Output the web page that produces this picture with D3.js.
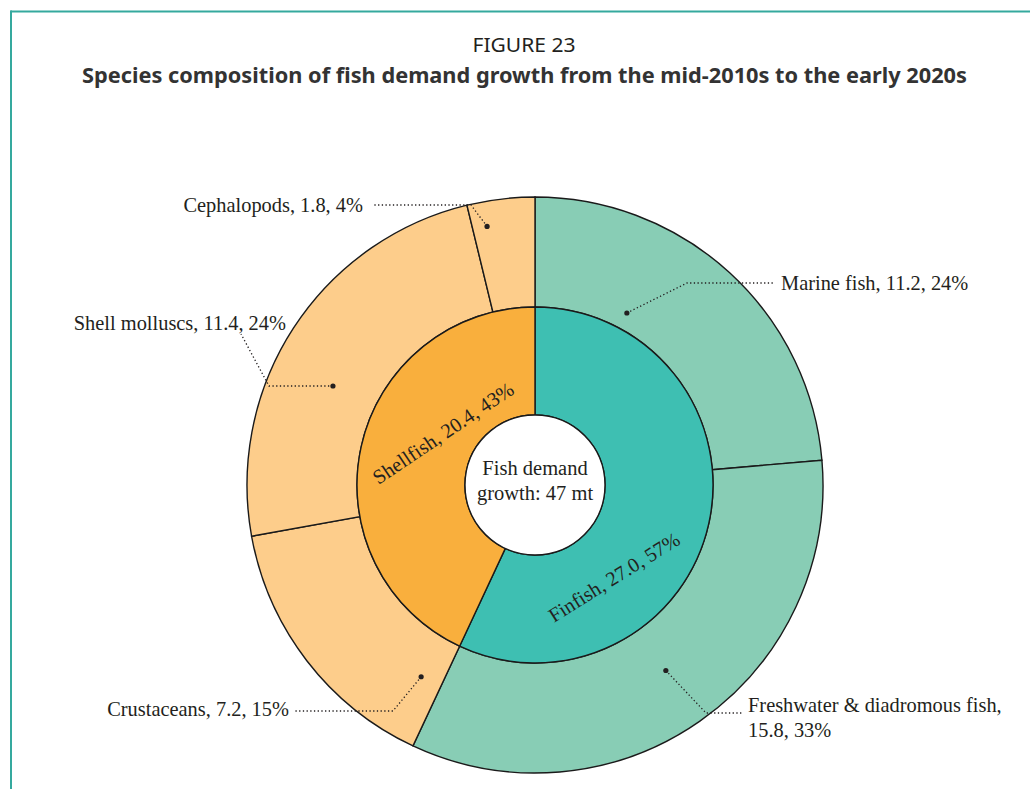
<!DOCTYPE html>
<html>
<head>
<meta charset="utf-8">
<script src="https://cdn.jsdelivr.net/npm/d3@7/dist/d3.min.js"></script>
<style>
  html, body { margin: 0; padding: 0; background: #fff; }
  svg { display: block; }
</style>
</head>
<body>
<svg id="chart" width="1030" height="789"></svg>
<script>
// ---- data ----
const groupNames = ["Finfish", "Shellfish"];
const groupValues = [27.0, 20.4];
const groupPct = ["57%", "43%"];
const speciesNames = ["Marine fish", "Freshwater & diadromous fish", "Crustaceans", "Shell molluscs", "Cephalopods"];
const speciesValues = [11.2, 15.8, 7.2, 11.4, 1.8];
const speciesPct = ["24%", "33%", "15%", "24%", "4%"];
const speciesGroup = [0, 0, 1, 1, 1];
const centerLabel = ["Fish demand", "growth: 47 mt"];
const figureLabel = "FIGURE 23";
const titleText = "Species composition of fish demand growth from the mid-2010s to the early 2020s";

// ---- layout / style ----
const W = 1030, H = 789;
const cx = 535, cy = 485;
const rHole = 70, rInner = 178, rOuter = 288;
const innerColors = ["#3EBFB2", "#F9AF3D"];
const outerColors = ["#88CDB5", "#88CDB5", "#FDCD8B", "#FDCD8B", "#FDCD8B"];
const textColor = "#231f20";
const serif = "'Liberation Serif', 'Times New Roman', serif";

// annotation layout: dot polar (deg clockwise from top, radius), elbow and end relative to center
const annot = [
  { a: 28.1, r: 195, elbow: [152, -202], end: [239, -202], tx: [246, -195], anchor: "start", lines: ["Marine fish, 11.2, 24%"] },
  { a: 144.8, r: 227, elbow: [171, 228], end: [208, 228], tx: [213, 227], anchor: "start", lines: ["Freshwater & diadromous fish,", "15.8, 33%"] },
  { a: 210.7, r: 223, elbow: [-142, 226], end: [-242, 226], tx: [-246, 231], anchor: "end", lines: ["Crustaceans, 7.2, 15%"] },
  { a: 296.1, r: 225, elbow: [-266, -99], end: [-294, -151], tx: [-249, -155], anchor: "end", lines: ["Shell molluscs, 11.4, 24%"] },
  { a: 349.5, r: 263, elbow: [-64, -280], end: [-163, -280], tx: [-172, -273], anchor: "end", lines: ["Cephalopods, 1.8, 4%"] }
];
const innerLabelPos = [
  { dx: 79, dy: 92, rot: -32 },
  { dx: -92, dy: -52, rot: -34 }
];

const svg = d3.select("#chart");

// frame
svg.append("line").attr("x1", 10.5).attr("x2", W).attr("y1", 11.5).attr("y2", 11.5)
  .attr("stroke", "#35A99E").attr("stroke-width", 2);
svg.append("line").attr("x1", 11).attr("x2", 11).attr("y1", 10.5).attr("y2", H)
  .attr("stroke", "#35A99E").attr("stroke-width", 2);

// titles
svg.append("text").attr("x", 524).attr("y", 52).attr("text-anchor", "middle")
  .attr("font-family", "'Noto Sans', 'Open Sans', sans-serif").attr("font-size", 19.5)
  .attr("fill", textColor).attr("textLength", 103).attr("lengthAdjust", "spacingAndGlyphs")
  .text(figureLabel);
svg.append("text").attr("x", 524.5).attr("y", 83).attr("text-anchor", "middle")
  .attr("font-family", "'Noto Sans', 'Open Sans', sans-serif").attr("font-size", 21).attr("font-weight", "bold")
  .attr("fill", "#333").attr("textLength", 885).attr("lengthAdjust", "spacingAndGlyphs")
  .text(titleText);

const g = svg.append("g").attr("transform", `translate(${cx},${cy})`);

const pie = d3.pie().sort(null).value(d => d);
const innerArcs = pie(groupValues);
const outerArcs = pie(speciesValues);

const arcInner = d3.arc().innerRadius(rHole).outerRadius(rInner);
const arcOuter = d3.arc().innerRadius(rInner).outerRadius(rOuter);

g.selectAll("path.outer").data(outerArcs).join("path")
  .attr("class", "outer")
  .attr("d", arcOuter)
  .attr("fill", (d, i) => outerColors[i])
  .attr("stroke", "#1a1a1a").attr("stroke-width", 1.4);

g.selectAll("path.inner").data(innerArcs).join("path")
  .attr("class", "inner")
  .attr("d", arcInner)
  .attr("fill", (d, i) => innerColors[i])
  .attr("stroke", "#1a1a1a").attr("stroke-width", 1.4);

g.append("circle").attr("r", rHole).attr("fill", "#fff")
  .attr("stroke", "#1a1a1a").attr("stroke-width", 1.4);

// center label
g.selectAll("text.center").data(centerLabel).join("text")
  .attr("class", "center")
  .attr("x", 0).attr("y", (d, i) => -10 + i * 25)
  .attr("text-anchor", "middle")
  .attr("font-family", serif).attr("font-size", 20.5).attr("fill", textColor)
  .text(d => d);

// inner labels
g.selectAll("text.inlab").data(innerArcs).join("text")
  .attr("class", "inlab")
  .attr("transform", (d, i) => `translate(${innerLabelPos[i].dx},${innerLabelPos[i].dy}) rotate(${innerLabelPos[i].rot})`)
  .attr("text-anchor", "middle").attr("dy", "0.35em")
  .attr("font-family", serif).attr("font-size", 20.3).attr("fill", textColor)
  .text((d, i) => `${groupNames[i]}, ${groupValues[i].toFixed(1)}, ${groupPct[i]}`);

// outer annotations
outerArcs.forEach((d, i) => {
  const an = annot[i];
  const rad = an.a * Math.PI / 180;
  const px = an.r * Math.sin(rad), py = -an.r * Math.cos(rad);
  g.append("path")
    .attr("d", d3.line()([[px, py], an.elbow, an.end]))
    .attr("fill", "none").attr("stroke", textColor).attr("stroke-width", 1.3)
    .attr("stroke-dasharray", "1.3,2.4");
  g.append("circle").attr("cx", px).attr("cy", py).attr("r", 2.6).attr("fill", textColor);
  const t = g.append("text")
    .attr("x", an.tx[0]).attr("y", an.tx[1])
    .attr("text-anchor", an.anchor)
    .attr("font-family", serif).attr("font-size", 20.4).attr("fill", textColor);
  an.lines.forEach((ln, k) => {
    t.append("tspan").attr("x", an.tx[0]).attr("dy", k === 0 ? 0 : 24.5).text(ln);
  });
});
</script>
</body>
</html>
